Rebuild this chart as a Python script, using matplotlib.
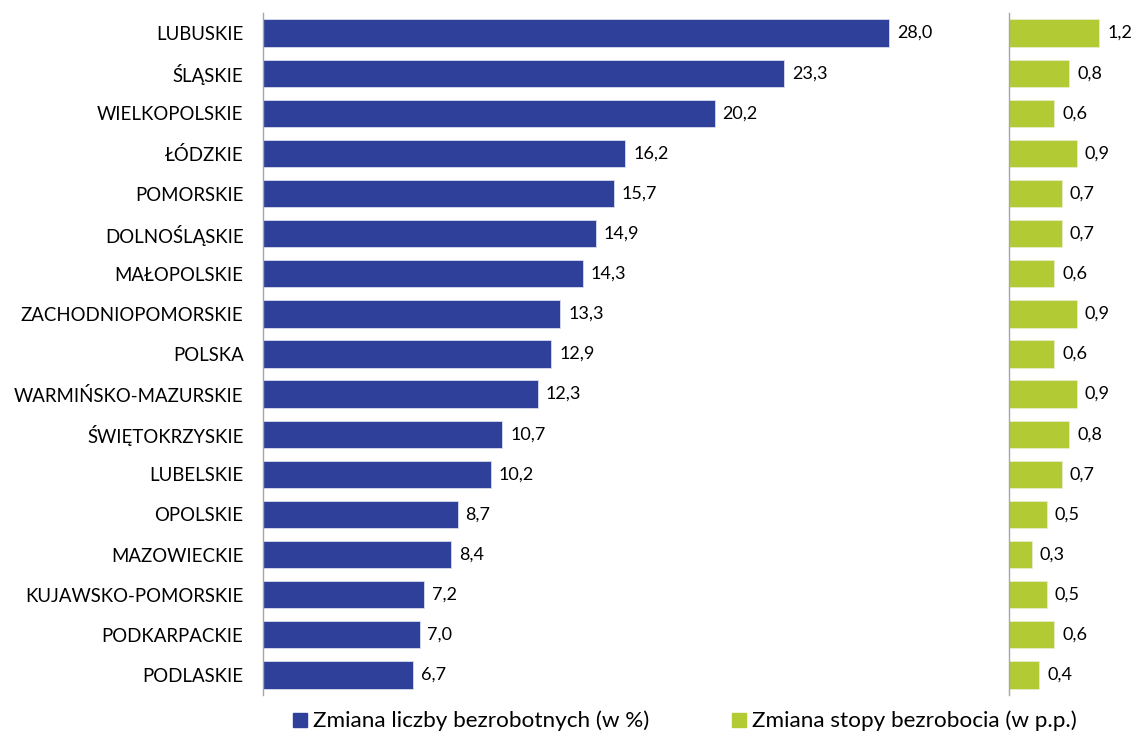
import matplotlib
matplotlib.use("Agg")
import matplotlib.pyplot as plt
from matplotlib.patches import Rectangle

plt.rcParams['font.family'] = ['Lato', 'DejaVu Sans']

regions = ["LUBUSKIE", "ŚLĄSKIE", "WIELKOPOLSKIE", "ŁÓDZKIE", "POMORSKIE",
           "DOLNOŚLĄSKIE", "MAŁOPOLSKIE", "ZACHODNIOPOMORSKIE", "POLSKA",
           "WARMIŃSKO-MAZURSKIE", "ŚWIĘTOKRZYSKIE", "LUBELSKIE", "OPOLSKIE",
           "MAZOWIECKIE", "KUJAWSKO-POMORSKIE", "PODKARPACKIE", "PODLASKIE"]
unemployed_change = [28.0, 23.3, 20.2, 16.2, 15.7, 14.9, 14.3, 13.3, 12.9,
                     12.3, 10.7, 10.2, 8.7, 8.4, 7.2, 7.0, 6.7]
rate_change = [1.2, 0.8, 0.6, 0.9, 0.7, 0.7, 0.6, 0.9, 0.6,
               0.9, 0.8, 0.7, 0.5, 0.3, 0.5, 0.6, 0.4]
legend_labels = ["Zmiana liczby bezrobotnych (w %)", "Zmiana stopy bezrobocia (w p.p.)"]

blue = "#2E4099"
green = "#B2CB35"
W, H = 1134, 731
fig = plt.figure(figsize=(W / 100, H / 100), dpi=100)

top, bottom = 13, 695
ax1 = fig.add_axes([263 / W, 1 - bottom / H, (1000 - 263) / W, (bottom - top) / H])
ax2 = fig.add_axes([1009 / W, 1 - bottom / H, (W - 1009) / W, (bottom - top) / H])

y = list(range(len(regions)))
fs = 13.4
vfs = 13

ax1.barh(y, unemployed_change, height=0.68, color=blue, edgecolor="#d8dcec", linewidth=0.6)
ax1.set_xlim(0, (1000 - 263) / 22.36)
for yi, v in zip(y, unemployed_change):
    ax1.text(v + 0.35, yi, f"{v:.1f}".replace(".", ","), va="center", ha="left", fontsize=vfs)

ax2.barh(y, rate_change, height=0.68, color=green, edgecolor="#e6edc8", linewidth=0.6)
ax2.set_xlim(0, (W - 1009) / 75)
for yi, v in zip(y, rate_change):
    ax2.text(v + 0.11, yi, f"{v:.1f}".replace(".", ","), va="center", ha="left", fontsize=vfs)

for ax in (ax1, ax2):
    ax.set_ylim(len(regions) - 0.5, -0.5)
    for s in ("top", "right", "bottom"):
        ax.spines[s].set_visible(False)
    ax.spines["left"].set_color("#a6a6a6")
    ax.spines["left"].set_linewidth(1.0)
    ax.set_xticks([])
    ax.tick_params(axis="y", length=0)
    ax.patch.set_alpha(0)

ax1.set_yticks(y)
ax1.set_yticklabels(regions, fontsize=fs)
ax1.tick_params(axis="y", pad=14)
ax2.set_yticks([])

# legend, placed by hand
for (x0, col, label) in [(293, blue, legend_labels[0]), (732, green, legend_labels[1])]:
    fig.patches.append(Rectangle((x0 / W, 1 - 727 / H), 14 / W, 14 / H, color=col,
                                 transform=fig.transFigure, figure=fig))
    fig.text((x0 + 20) / W, 1 - 727 / H, label, fontsize=16.2, va="baseline", ha="left")

fig.savefig("out.png", dpi=100)
